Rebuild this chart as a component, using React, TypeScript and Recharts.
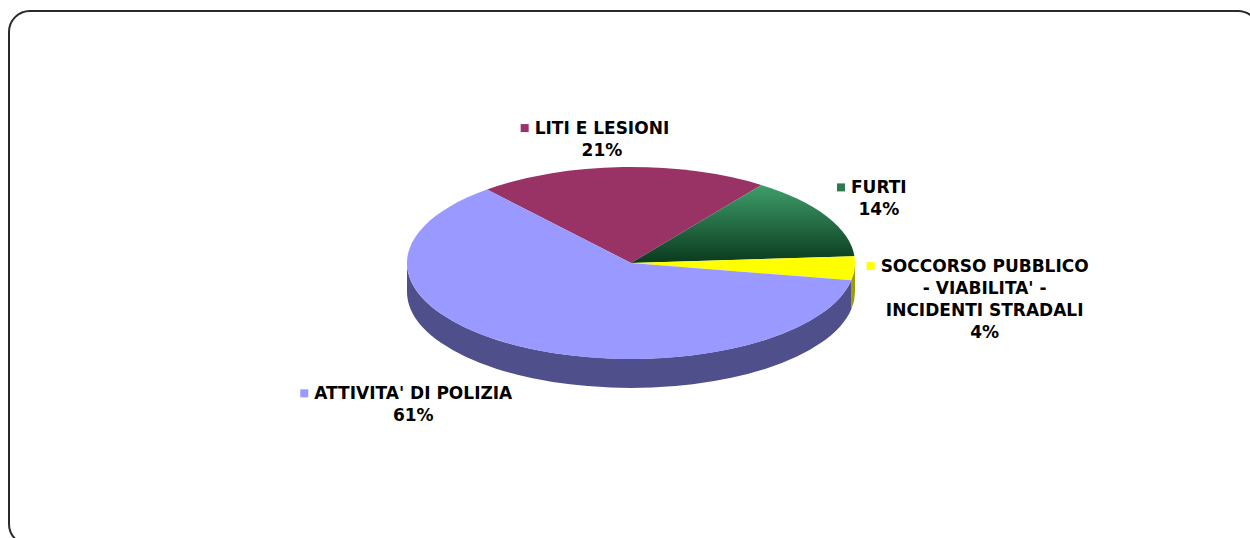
import React from "react";
import { PieChart, Pie, Cell } from "recharts";

// data (percent of total)
const categories = [
  "LITI E LESIONI",
  "FURTI",
  "SOCCORSO PUBBLICO - VIABILITA' - INCIDENTI STRADALI",
  "ATTIVITA' DI POLIZIA",
];
const values = [21, 14, 4, 61];
// how the category names wrap in the labels
const labelLines = [
  ["LITI E LESIONI"],
  ["FURTI"],
  ["SOCCORSO PUBBLICO", "- VIABILITA' -", "INCIDENTI STRADALI"],
  ["ATTIVITA' DI POLIZIA"],
];

const TOP_COLORS = ["#993366", "url(#furtiGrad)", "#FFFF00", "#9999FF"];
const SIDE_COLORS = ["#5c1f3d", "#0c3a1f", "#9c9c00", "#4f4f8c"];
const KEY_COLORS = ["#993366", "#2c7a4e", "#FFFF00", "#9999FF"];

const TILT = 96 / 224;
const DEPTH = 29;
const FONT_SIZE = 17;
const FONT = `bold ${FONT_SIZE}px "DejaVu Sans"`;
const LINE_H = 22;
const KEY = 8;
const KEY_GAP = 6;
const GAP_X = 12;
const GAP_Y = 20;
// small per-label shifts, Excel's "best fit" placement
const LABEL_NUDGE: Record<number, [number, number]> = { 0: [-27, 0], 2: [0, -2] };

const data = categories.map((name, i) => ({ name, value: values[i], idx: i }));

let ctx: CanvasRenderingContext2D | null = null;
function textWidth(s: string) {
  if (!ctx && typeof document !== "undefined") {
    ctx = document.createElement("canvas").getContext("2d");
  }
  if (!ctx) return s.length * FONT_SIZE * 0.7;
  ctx.font = FONT;
  return ctx.measureText(s).width;
}

function pt(cx: number, cy: number, rx: number, ry: number, deg: number) {
  const r = (deg * Math.PI) / 180;
  return [cx + rx * Math.cos(r), cy - ry * Math.sin(r)];
}

// elliptical top face + visible front wall for one sector
const Slice3D = (props: any) => {
  const { cx, cy, outerRadius, startAngle, endAngle, fill, payload } = props;
  const rx = outerRadius;
  const ry = outerRadius * TILT;
  const hi = Math.max(startAngle, endAngle);
  const lo = Math.min(startAngle, endAngle);
  const [sx, sy] = pt(cx, cy, rx, ry, hi);
  const [ex, ey] = pt(cx, cy, rx, ry, lo);
  const large = hi - lo > 180 ? 1 : 0;
  const top = `M${cx},${cy} L${sx},${sy} A${rx},${ry} 0 ${large} 1 ${ex},${ey} Z`;

  const walls: string[] = [];
  for (let k = -2; k <= 1; k++) {
    const l = Math.max(lo, -180 + 360 * k);
    const h = Math.min(hi, 360 * k);
    if (h - l > 0.01) {
      const [hx, hy] = pt(cx, cy, rx, ry, h);
      const [lx, ly] = pt(cx, cy, rx, ry, l);
      walls.push(
        `M${hx},${hy} A${rx},${ry} 0 0 1 ${lx},${ly} L${lx},${ly + DEPTH} A${rx},${ry} 0 0 0 ${hx},${hy + DEPTH} Z`
      );
    }
  }
  const idx = payload?.idx ?? props.idx ?? 0;
  return (
    <g>
      {walls.map((d, i) => (
        <path key={i} d={d} fill={SIDE_COLORS[idx]} stroke="none" />
      ))}
      <path d={top} fill={fill} stroke="none" />
    </g>
  );
};

const renderLabel = (props: any) => {
  const { cx, cy, midAngle, outerRadius, index, percent } = props;
  const rad = (midAngle * Math.PI) / 180;
  const c = Math.cos(rad);
  const s = Math.sin(rad);
  const nudge = LABEL_NUDGE[index] ?? [0, 0];
  const px = cx + (outerRadius + GAP_X) * c + nudge[0];
  const py =
    cy - (outerRadius * TILT + GAP_Y) * s + DEPTH * Math.max(0, -s) + nudge[1];
  const lines = [...labelLines[index], `${Math.round(percent * 100)}%`];
  const w = Math.max(...lines.map(textWidth));
  const blockW = KEY + KEY_GAP + w;
  const left = c > 0.35 ? px : c < -0.35 ? px - blockW : px - blockW / 2;
  let firstY: number;
  if (s > 0.35) firstY = py + 3 - (lines.length - 1) * LINE_H;
  else if (s < -0.35) firstY = py + 5;
  else firstY = py - 3;
  const textCx = left + KEY + KEY_GAP + w / 2;
  return (
    <g key={`lbl-${index}`}>
      <rect x={left} y={firstY - KEY / 2} width={KEY} height={KEY} fill={KEY_COLORS[index]} />
      <text
        textAnchor="middle"
        fontFamily='"DejaVu Sans", sans-serif'
        fontWeight="bold"
        fontSize={FONT_SIZE}
        fill="#000"
      >
        {lines.map((l, i) => (
          <tspan key={i} x={textCx} y={firstY + i * LINE_H + 6}>
            {l}
          </tspan>
        ))}
      </text>
    </g>
  );
};

export default function App() {
  return (
    <div style={{ position: "relative", width: 1250, height: 538, overflow: "hidden", background: "#fff" }}>
      <style>{`body{margin:0}`}</style>
      <div
        style={{
          position: "absolute",
          left: 8,
          top: 10,
          width: 1252,
          height: 536,
          border: "2px solid #2a2a2a",
          borderRadius: 22,
          boxSizing: "border-box",
        }}
      />
      <div style={{ position: "absolute", left: 0, top: 0 }}>
        <PieChart width={1250} height={538} margin={{ top: 0, right: 0, bottom: 0, left: 0 }}>
          <defs>
            <linearGradient id="furtiGrad" x1="0" y1="0" x2="0" y2="1">
              <stop offset="0%" stopColor="#3e9e6a" />
              <stop offset="100%" stopColor="#0b3a1e" />
            </linearGradient>
          </defs>
          <Pie
            data={data}
            dataKey="value"
            nameKey="name"
            cx={631}
            cy={263}
            outerRadius={224}
            startAngle={130}
            endAngle={-230}
            stroke="none"
            shape={Slice3D}
            label={renderLabel}
            labelLine={false}
            isAnimationActive={false}
          >
            {data.map((d, i) => (
              <Cell key={d.name} fill={TOP_COLORS[i]} />
            ))}
          </Pie>
        </PieChart>
      </div>
    </div>
  );
}
